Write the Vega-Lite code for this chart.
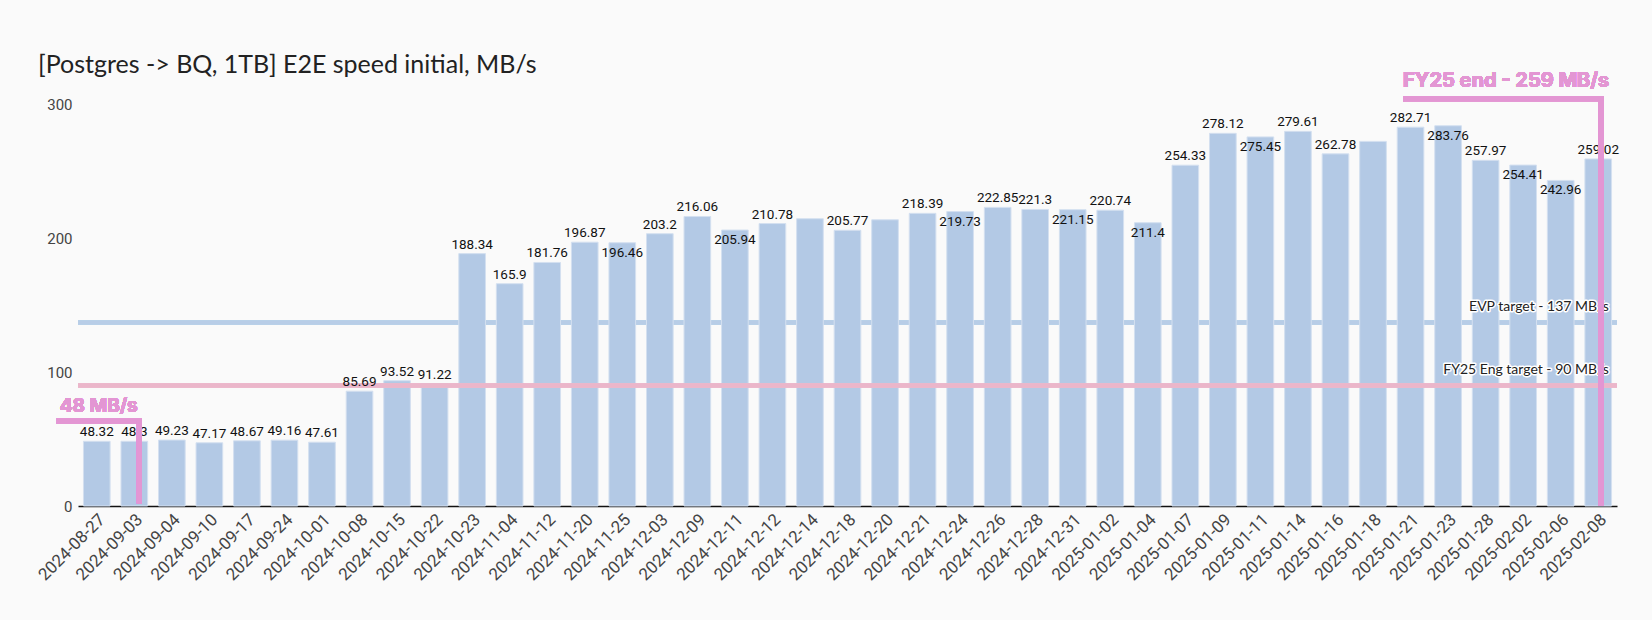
{
  "$schema": "https://vega.github.io/schema/vega-lite/v6.json",
  "width": 1539,
  "height": 402,
  "autosize": {"type": "none"},
  "padding": {"left": 78, "top": 104, "right": 35, "bottom": 114},
  "background": "#fafafa",
  "title": {
    "text": "[Postgres -> BQ, 1TB] E2E speed initial, MB/s",
    "anchor": "start",
    "frame": "group",
    "dx": -40,
    "font": "Lato",
    "fontSize": 25,
    "fontWeight": "normal",
    "color": "#222222",
    "offset": -7
  },
  "data": {
    "values": [
      {"date": "2024-08-27", "speed": 48.32},
      {"date": "2024-09-03", "speed": 48.3},
      {"date": "2024-09-04", "speed": 49.23},
      {"date": "2024-09-10", "speed": 47.17},
      {"date": "2024-09-17", "speed": 48.67},
      {"date": "2024-09-24", "speed": 49.16},
      {"date": "2024-10-01", "speed": 47.61},
      {"date": "2024-10-08", "speed": 85.69},
      {"date": "2024-10-15", "speed": 93.52},
      {"date": "2024-10-22", "speed": 91.22},
      {"date": "2024-10-23", "speed": 188.34},
      {"date": "2024-11-04", "speed": 165.9},
      {"date": "2024-11-12", "speed": 181.76},
      {"date": "2024-11-20", "speed": 196.87},
      {"date": "2024-11-25", "speed": 196.46},
      {"date": "2024-12-03", "speed": 203.2},
      {"date": "2024-12-09", "speed": 216.06},
      {"date": "2024-12-11", "speed": 205.94},
      {"date": "2024-12-12", "speed": 210.78},
      {"date": "2024-12-14", "speed": 214.4},
      {"date": "2024-12-18", "speed": 205.77},
      {"date": "2024-12-20", "speed": 213.6},
      {"date": "2024-12-21", "speed": 218.39},
      {"date": "2024-12-24", "speed": 219.73},
      {"date": "2024-12-26", "speed": 222.85},
      {"date": "2024-12-28", "speed": 221.3},
      {"date": "2024-12-31", "speed": 221.15},
      {"date": "2025-01-02", "speed": 220.74},
      {"date": "2025-01-04", "speed": 211.4},
      {"date": "2025-01-07", "speed": 254.33},
      {"date": "2025-01-09", "speed": 278.12},
      {"date": "2025-01-11", "speed": 275.45},
      {"date": "2025-01-14", "speed": 279.61},
      {"date": "2025-01-16", "speed": 262.78},
      {"date": "2025-01-18", "speed": 272.1},
      {"date": "2025-01-21", "speed": 282.71},
      {"date": "2025-01-23", "speed": 283.76},
      {"date": "2025-01-28", "speed": 257.97},
      {"date": "2025-02-02", "speed": 254.41},
      {"date": "2025-02-06", "speed": 242.96},
      {"date": "2025-02-08", "speed": 259.02}
    ]
  },
  "config": {
    "view": {"stroke": null},
    "axisX": {
      "labelAngle": -45,
      "labelFont": "Roboto",
      "labelFontSize": 17,
      "labelColor": "#444444",
      "ticks": false,
      "domainColor": "#111111",
      "domainWidth": 1.5,
      "labelPadding": 5
    },
    "axisY": {
      "labelFont": "Roboto",
      "labelFontSize": 15,
      "labelColor": "#444444",
      "ticks": false,
      "domain": false,
      "gridColor": "#e6e6e6",
      "gridWidth": 1.5,
      "labelPadding": 6
    }
  },
  "layer": [
    {
      "mark": {"type": "rule", "color": "#b8cde7", "strokeWidth": 3.5},
      "encoding": {
        "y": {"datum": 137, "type": "quantitative", "title": null, "scale": {"domain": [0, 300], "nice": false}, "axis": {"values": [0, 100, 200, 300], "title": null}}
      }
    },
    {
      "mark": {"type": "bar", "fill": "#b3c9e5", "stroke": "#d4e0f0", "strokeWidth": 1},
      "encoding": {
        "x": {"field": "date", "type": "ordinal", "title": null, "scale": {"paddingInner": 0.29}, "axis": {"labelAngle": -45, "title": null}},
        "y": {"field": "speed", "type": "quantitative", "title": null, "scale": {"domain": [0, 300], "nice": false}, "axis": {"values": [0, 100, 200, 300], "title": null}}
      }
    },
    {
      "mark": {"type": "rule", "color": "#ebb6ca", "strokeWidth": 3.5},
      "encoding": {
        "y": {"datum": 90, "type": "quantitative", "title": null}
      }
    },
    {
      "transform": [{"filter": "indexof(['2024-11-25','2024-12-11','2024-12-24','2024-12-31','2025-01-04','2025-01-11','2025-01-23','2025-02-02','2025-02-06','2024-12-14','2024-12-20','2025-01-18'], datum.date) < 0"}],
      "mark": {"type": "text", "font": "Roboto", "fontSize": 13.5, "color": "#111111", "baseline": "middle", "dy": -9},
      "encoding": {
        "x": {"field": "date", "type": "ordinal", "title": null},
        "y": {"field": "speed", "type": "quantitative", "title": null},
        "text": {"field": "speed", "type": "nominal"}
      }
    },
    {
      "transform": [{"filter": "indexof(['2024-11-25','2024-12-11','2024-12-24','2024-12-31','2025-01-04','2025-01-11','2025-01-23','2025-02-02','2025-02-06'], datum.date) >= 0"}],
      "mark": {"type": "text", "font": "Roboto", "fontSize": 13.5, "color": "#111111", "baseline": "middle", "dy": 10},
      "encoding": {
        "x": {"field": "date", "type": "ordinal", "title": null},
        "y": {"field": "speed", "type": "quantitative", "title": null},
        "text": {"field": "speed", "type": "nominal"}
      }
    },
    {
      "data": {"values": [{"target": 137, "label": "EVP target - 137 MB/s"}, {"target": 90, "label": "FY25 Eng target - 90 MB/s"}]},
      "mark": {"type": "text", "font": "Lato", "fontSize": 14, "align": "right", "baseline": "middle", "dy": -15, "stroke": "#ffffff", "strokeWidth": 3, "strokeJoin": "round", "fill": "#ffffff"},
      "encoding": {
        "x": {"datum": "2025-02-08", "type": "ordinal", "bandPosition": 0.9, "title": null},
        "y": {"field": "target", "type": "quantitative", "title": null},
        "text": {"field": "label", "type": "nominal"}
      }
    },
    {
      "data": {"values": [{"target": 137, "label": "EVP target - 137 MB/s"}, {"target": 90, "label": "FY25 Eng target - 90 MB/s"}]},
      "mark": {"type": "text", "font": "Lato", "fontSize": 14, "align": "right", "baseline": "middle", "dy": -15, "color": "#222222"},
      "encoding": {
        "x": {"datum": "2025-02-08", "type": "ordinal", "bandPosition": 0.9, "title": null},
        "y": {"field": "target", "type": "quantitative", "title": null},
        "text": {"field": "label", "type": "nominal"}
      }
    },
    {
      "mark": {"type": "rule", "color": "#e396d3", "strokeWidth": 5},
      "encoding": {
        "x": {"datum": "2024-08-27", "type": "ordinal", "bandPosition": -1.0, "title": null},
        "x2": {"datum": "2024-09-03", "bandPosition": 0.78},
        "y": {"datum": 63.5, "type": "quantitative", "title": null}
      }
    },
    {
      "mark": {"type": "rule", "color": "#e396d3", "strokeWidth": 5},
      "encoding": {
        "x": {"datum": "2024-09-03", "type": "ordinal", "bandPosition": 0.69, "title": null},
        "y": {"datum": 63.5, "type": "quantitative", "title": null},
        "y2": {"datum": 2}
      }
    },
    {
      "mark": {"type": "rule", "color": "#e396d3", "strokeWidth": 5},
      "encoding": {
        "x": {"datum": "2025-01-21", "type": "ordinal", "bandPosition": 0.22, "title": null},
        "x2": {"datum": "2025-02-08", "bandPosition": 0.71},
        "y": {"datum": 304, "type": "quantitative", "title": null}
      }
    },
    {
      "mark": {"type": "rule", "color": "#e396d3", "strokeWidth": 5},
      "encoding": {
        "x": {"datum": "2025-02-08", "type": "ordinal", "bandPosition": 0.6, "title": null},
        "y": {"datum": 304, "type": "quantitative", "title": null},
        "y2": {"datum": 0.5}
      }
    },
    {
      "mark": {"type": "text", "font": "Inter", "fontSize": 19, "fontWeight": "bold", "color": "#e396d3", "align": "left", "baseline": "middle"},
      "encoding": {
        "x": {"datum": "2024-08-27", "type": "ordinal", "bandPosition": -0.89, "title": null},
        "y": {"datum": 75, "type": "quantitative", "title": null},
        "text": {"value": "48 MB/s"}
      }
    },
    {
      "mark": {"type": "text", "font": "Inter", "fontSize": 20, "fontWeight": "bold", "color": "#e396d3", "align": "left", "baseline": "middle"},
      "encoding": {
        "x": {"datum": "2025-01-21", "type": "ordinal", "bandPosition": 0.22, "title": null},
        "y": {"datum": 317.5, "type": "quantitative", "title": null},
        "text": {"value": "FY25 end - 259 MB/s"}
      }
    }
  ]
}
